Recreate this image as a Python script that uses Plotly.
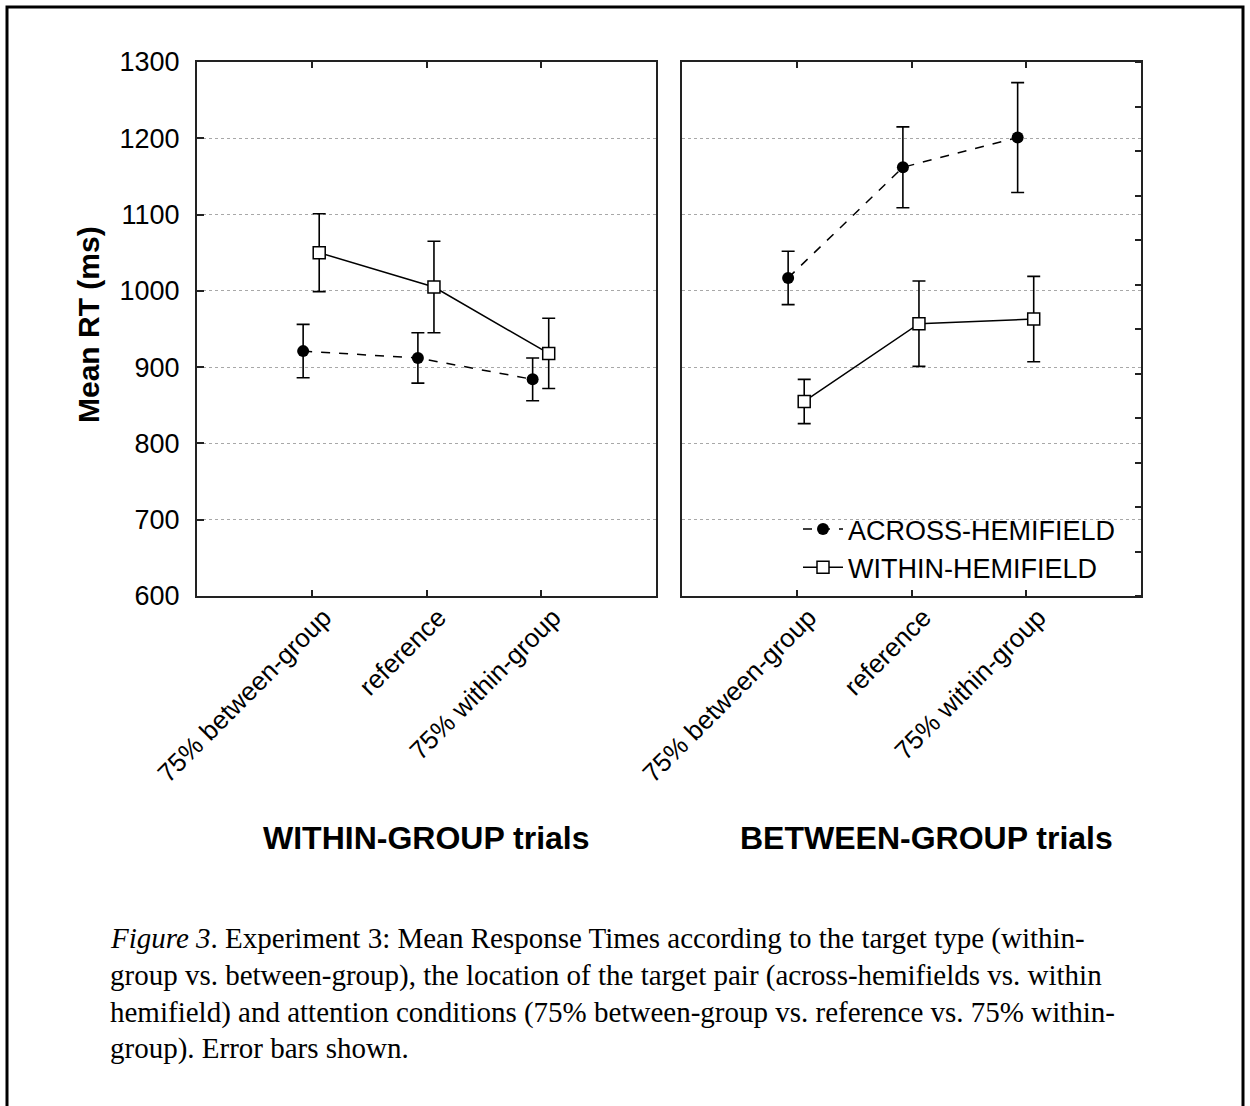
import plotly.graph_objects as go

W, H = 1250, 1106

# ---------------- data ----------------
conditions = ["75% between-group", "reference", "75% within-group"]
cond_pos = [1, 2, 3]

# WITHIN-GROUP trials (left panel)
wg_across = [921, 912, 884]
wg_across_err = [35, 33, 28]
wg_within = [1050, 1005, 918]
wg_within_err = [51, 60, 46]

# BETWEEN-GROUP trials (right panel)
bg_across = [1017, 1162, 1201]
bg_across_err = [35, 53, 72]
bg_within = [855, 957, 963]
bg_within_err = [29, 56, 56]

y_ticks = [600, 700, 800, 900, 1000, 1100, 1200, 1300]
series_names = ["ACROSS-HEMIFIELD", "WITHIN-HEMIFIELD"]
panel_titles = ["WITHIN-GROUP trials", "BETWEEN-GROUP trials"]
caption_lines = [
    "<i>Figure 3</i>. Experiment 3: Mean Response Times according to the target type (within-",
    "group vs. between-group), the location of the target pair (across-hemifields vs. within",
    "hemifield) and attention conditions (75% between-group vs. reference vs. 75% within-",
    "group). Error bars shown.",
]

# ---------------- layout helpers ----------------
def px(x):
    return x / W

def py(y):
    return 1 - y / H

SANS = "Arial, Liberation Sans, sans-serif"
SERIF = "Times New Roman, Liberation Serif, serif"
OFF_A, OFF_W = -0.075, 0.065

fig = go.Figure()

def add_panel(xa, ya, across, across_err, within, within_err, show_legend):
    fig.add_trace(go.Scatter(
        x=[p + OFF_A for p in cond_pos], y=across, xaxis=xa, yaxis=ya,
        mode="lines+markers", name=series_names[0], showlegend=show_legend,
        line=dict(color="black", width=1.5, dash="dash"),
        marker=dict(symbol="circle", size=12, color="black"),
        error_y=dict(type="data", array=across_err, color="black", thickness=1.6, width=6.5),
    ))
    fig.add_trace(go.Scatter(
        x=[p + OFF_W for p in cond_pos], y=within, xaxis=xa, yaxis=ya,
        mode="lines+markers", name=series_names[1], showlegend=show_legend,
        line=dict(color="black", width=1.5),
        marker=dict(symbol="square", size=12, color="white", line=dict(color="black", width=1.5)),
        error_y=dict(type="data", array=within_err, color="black", thickness=1.6, width=6.5),
    ))

add_panel("x", "y", wg_across, wg_across_err, wg_within, wg_within_err, True)
add_panel("x2", "y2", bg_across, bg_across_err, bg_within, bg_within_err, False)

LINE = "#222222"
xcommon = dict(
    range=[0, 4], tickvals=cond_pos, ticktext=conditions, tickangle=-45,
    ticks="inside", ticklen=6, tickwidth=1.5, tickcolor=LINE,
    showline=True, linecolor=LINE, linewidth=2, mirror="allticks",
    showgrid=False, zeroline=False, automargin=False,
    tickfont=dict(family=SANS, size=26, color="black"),
    ticklabelstandoff=-6, ticklabelshift=12,
)
ycommon = dict(
    range=[600, 1300], tickvals=y_ticks,
    showline=True, linecolor=LINE, linewidth=2, mirror=True,
    showgrid=True, gridcolor="#a8a8a8", gridwidth=1, griddash="dot",
    zeroline=False, automargin=False,
)

y_dom = [py(596), py(62)]
fig.update_layout(
    width=W, height=H,
    margin=dict(l=0, r=0, t=0, b=0),
    paper_bgcolor="white", plot_bgcolor="white",
    xaxis=dict(domain=[px(197), px(656)], anchor="y", **xcommon),
    xaxis2=dict(domain=[px(682), px(1141)], anchor="y2", **xcommon),
    yaxis=dict(domain=y_dom, anchor="x", ticks="inside", ticklen=7, tickwidth=1.5,
               tickcolor=LINE, showticklabels=True, ticklabelstandoff=10,
               tickfont=dict(family=SANS, size=27, color="black"), **ycommon),
    yaxis2=dict(domain=y_dom, anchor="x2", side="right", ticks="", showticklabels=False,
                minor=dict(ticks="inside", tick0=600, dtick=700 / 12, ticklen=6,
                           tickwidth=1.5, tickcolor=LINE, showgrid=False),
                **ycommon),
    showlegend=True,
    legend=dict(x=px(798), y=py(505), xanchor="left", yanchor="top",
                bgcolor="rgba(0,0,0,0)", borderwidth=0,
                font=dict(family=SANS, size=27, color="black"),
                itemwidth=40, tracegroupgap=0),
)

annotations = [
    dict(x=px(89), y=py(325), xref="paper", yref="paper", text="<b>Mean RT (ms)</b>",
         textangle=-90, showarrow=False, xanchor="center", yanchor="middle",
         font=dict(family=SANS, size=30, color="black")),
    dict(x=px(426), y=py(838), xref="paper", yref="paper", text=f"<b>{panel_titles[0]}</b>",
         showarrow=False, xanchor="center", yanchor="middle",
         font=dict(family=SANS, size=32, color="black")),
    dict(x=px(926), y=py(838), xref="paper", yref="paper", text=f"<b>{panel_titles[1]}</b>",
         showarrow=False, xanchor="center", yanchor="middle",
         font=dict(family=SANS, size=32, color="black")),
]
line_y = [938, 975, 1012, 1048]
for txt, yy in zip(caption_lines, line_y):
    annotations.append(dict(
        x=px(108), y=py(yy), xref="paper", yref="paper", text=txt, showarrow=False,
        xanchor="left", yanchor="middle", align="left",
        font=dict(family=SERIF, size=29, color="black")))
fig.update_layout(annotations=annotations)

# outer page frame (open at the bottom)
fig.add_shape(type="path", xref="paper", yref="paper",
              path=f"M {px(7)},{py(1106)} L {px(7)},{py(7)} L {px(1243)},{py(7)} L {px(1243)},{py(1106)}",
              line=dict(color="black", width=3))

fig.write_html("out.html")
